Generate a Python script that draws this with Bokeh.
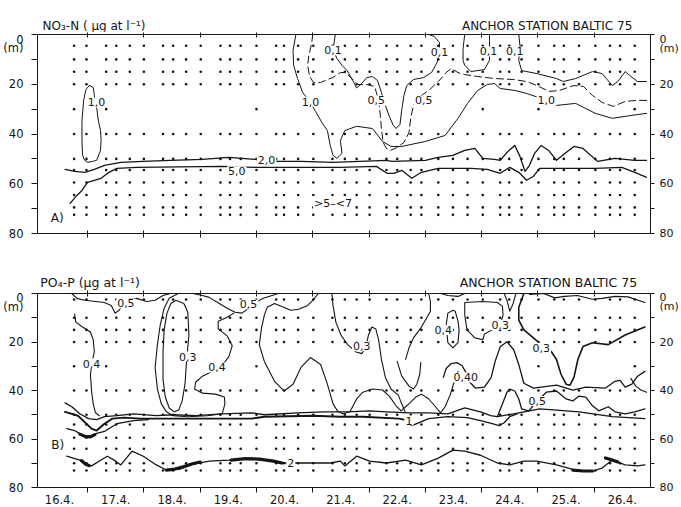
from bokeh.plotting import figure
from bokeh.models import Range1d, LinearAxis, FixedTicker, Label, ColumnDataSource
from bokeh.layouts import column
from bokeh.embed import file_html
from bokeh.resources import INLINE
from bokeh.core.properties import value

FONT = "DejaVu Sans"
INK = "#151515"
X0, X1 = 16.11, 27.0
PAGE_W = 681

# ---------------- axes data ----------------
DAY_TICKS = [17, 18, 19, 20, 21, 22, 23, 24, 25, 26]
DATE_POS = [16.5, 17.5, 18.5, 19.5, 20.5, 21.5, 22.5, 23.5, 24.5, 25.5, 26.5]
DATE_LABELS = ["16.4.", "17.4.", "18.4.", "19.4.", "20.4.", "21.4.", "22.4.",
               "23.4.", "24.4.", "25.4.", "26.4."]
DEPTH_LABEL_POS = [0, 5.5, 20, 40, 60, 80]
DEPTH_LABELS = ["0", "(m)", "20", "40", "60", "80"]
DEPTH_TICK_MARKS = [0, 10, 20, 30, 40, 50, 60, 70, 80]

# ---------------- titles (text, day of left edge) ----------------
TITLE_A = ("NO\u2083-N ( \u00b5g at l\u207b\u00b9)", 16.20)
STATION_A = ("ANCHOR STATION BALTIC 75", 23.65)
TITLE_B = ("PO\u2084-P (\u00b5g at l\u207b\u00b9)", 16.16)
STATION_B = ("ANCHOR STATION  BALTIC  75", 23.61)

# ---------------- sampling stations ----------------
STATIONS = [16.76, 16.98, 17.33, 17.51, 17.75, 18.0, 18.34, 18.52, 18.75, 19.01,
            19.36, 19.53, 19.72, 20.0, 20.35, 20.49, 20.74, 21.01, 21.35, 21.57,
            21.78, 22.01, 22.31, 22.5, 22.74, 22.93, 23.23, 23.49, 23.75, 24.02,
            24.33, 24.49, 24.71, 25.01, 25.29, 25.46, 25.73, 26.02, 26.28, 26.46, 26.72]
A_ROWS = [4.5, 10, 15, 20, 40, 50, 54.5, 59.5, 64.5, 69.5, 72.5]
A_ROW30 = [16.76, 17.33, 20.0, 24.02, 25.01, 26.72]
B_ROWS = [2.5, 10, 15, 20, 40, 50, 54, 59.5, 64, 70, 73]
B_ROW30 = [16.76, 17.33, 20.0, 25.01, 26.72]

# ---------------- panel A : NO3-N contours (day, depth m) ----------------
A_LOOP_10 = [(17.03, 20.5), (16.97, 22.1), (16.93, 26.5), (16.90, 34.5), (16.90, 42.6),
             (16.91, 48.6), (16.95, 50.6), (17.0, 51.4), (17.09, 51.0), (17.16, 50.6),
             (17.23, 46.6), (17.24, 42.6), (17.23, 38.6), (17.19, 34.5), (17.16, 29.3),
             (17.12, 24.5), (17.10, 21.3), (17.03, 20.5)]
A_LINE_20 = [(16.60, 54.2), (16.77, 55.0), (16.95, 55.4), (17.12, 54.2), (17.30, 52.6),
             (17.59, 51.4), (17.99, 51.0), (18.47, 50.6), (19.04, 50.2), (19.51, 49.4),
             (19.97, 50.2), (20.39, 51.0), (20.79, 51.0), (21.36, 51.4), (21.83, 51.0),
             (22.31, 50.6), (22.41, 51.0), (23.00, 50.6), (23.23, 49.4), (23.49, 48.6),
             (23.70, 46.6), (23.88, 45.8), (24.02, 49.8), (24.23, 50.2), (24.33, 50.6),
             (24.45, 47.4), (24.59, 44.6), (24.68, 49.0), (24.77, 55.0), (24.85, 52.6),
             (24.94, 47.8), (25.06, 44.6), (25.19, 46.6), (25.33, 50.6), (25.50, 47.4),
             (25.64, 45.0), (25.80, 45.8), (26.06, 51.0), (26.37, 49.8), (26.72, 50.6),
             (26.93, 50.6)]
A_LINE_50 = [(16.69, 67.9), (16.81, 64.7), (16.90, 62.7), (17.0, 59.4), (17.12, 58.6),
             (17.24, 57.8), (17.38, 55.4), (17.52, 53.8), (17.87, 53.4), (19.39, 53.0),
             (19.97, 53.4), (21.49, 53.4), (22.13, 53.0), (22.32, 55.8), (22.44, 55.8),
             (22.58, 54.6), (22.76, 57.8), (22.93, 55.4), (23.23, 53.8), (23.81, 53.8),
             (24.10, 54.2), (24.33, 55.8), (24.50, 53.4), (24.66, 55.4), (24.80, 58.6),
             (24.92, 57.0), (25.03, 53.8), (25.55, 53.8), (26.02, 53.8), (26.49, 53.4),
             (26.72, 55.4), (26.93, 57.4)]
A_LINE_10 = [(20.70, 0), (20.65, 6.4), (20.66, 12.4), (20.73, 17.7), (20.82, 23.3),
             (20.93, 26.5), (21.05, 30.9), (21.17, 35.7), (21.26, 38.6), (21.31, 44.6),
             (21.36, 48.6), (21.43, 49.8), (21.52, 47.8), (21.49, 42.6), (21.57, 38.6),
             (21.78, 36.9), (22.06, 37.8), (22.24, 43.0), (22.39, 45.0), (22.58, 45.0),
             (23.00, 43.0), (23.35, 40.6), (23.58, 33.7), (23.75, 27.7), (23.93, 22.5),
             (24.10, 20.1), (24.23, 19.7), (24.33, 21.7), (24.59, 22.5), (24.80, 23.7),
             (25.06, 25.7), (25.33, 28.5), (25.67, 27.7), (26.02, 31.7), (26.32, 33.7),
             (26.67, 32.5), (26.93, 31.7)]
A_LINE_01_V = [(21.40, 0), (21.36, 6.4), (21.43, 9.6), (21.52, 12.4), (21.61, 14.5),
               (21.71, 18.5), (21.78, 21.5), (21.87, 19.7), (21.96, 17.3), (22.06, 16.9),
               (22.15, 18.5), (22.22, 23.3), (22.29, 28.5), (22.36, 32.9), (22.43, 36.5),
               (22.48, 37.8), (22.55, 36.1), (22.58, 30.5), (22.62, 24.5), (22.67, 20.5),
               (22.79, 18.1), (22.97, 17.3), (23.11, 15.3), (23.21, 11.2), (23.25, 7.2),
               (23.25, 3.2), (23.16, 0.8), (23.06, 0)]
A_LINE_05 = [(21.0, 0), (20.98, 3.6), (20.93, 8.4), (20.91, 12.4), (20.94, 16.5),
             (21.01, 19.3), (21.14, 19.3), (21.26, 18.1), (21.36, 17.3), (21.49, 15.3),
             (21.57, 15.3), (21.66, 16.9), (21.80, 20.1), (21.96, 20.1), (22.10, 20.9),
             (22.17, 26.5), (22.20, 32.5), (22.22, 37.8), (22.25, 43.4), (22.31, 45.8),
             (22.38, 46.6), (22.50, 45.4), (22.62, 43.4), (22.71, 39.4), (22.74, 33.7),
             (22.79, 28.5), (22.88, 25.3), (23.06, 22.5), (23.23, 18.9), (23.37, 15.3),
             (23.46, 13.7), (23.58, 15.3), (23.70, 16.1), (23.93, 16.9), (24.23, 17.7),
             (24.57, 18.1), (24.80, 18.9), (24.98, 20.5), (25.20, 22.9), (25.38, 22.5),
             (25.64, 20.5), (25.81, 20.9), (25.97, 24.5), (26.14, 27.3), (26.34, 28.9),
             (26.55, 26.9), (26.76, 26.5), (26.93, 26.5)]
A_LOOP_01 = [(23.70, 0), (23.67, 5.6), (23.67, 10.4), (23.70, 12.4), (23.81, 14.9),
             (24.05, 14.1), (24.14, 10.4), (24.14, 7.2), (24.14, 2.4), (24.14, 0)]
A_LINE_01_R = [(24.66, 0), (24.68, 4.4), (24.66, 10.4), (24.71, 14.5), (24.98, 15.7),
               (25.33, 17.7), (25.45, 18.9), (25.67, 17.7), (25.97, 14.9), (26.14, 15.7),
               (26.32, 20.5), (26.42, 18.9), (26.55, 14.9), (26.63, 16.5), (26.77, 18.9),
               (26.93, 18.9)]
A_LABELS = [("1,0", 17.16, 27.3), ("1,0", 20.96, 27.0), ("1,0", 25.15, 26.5),
            ("2,0", 20.18, 50.6), ("5,0", 19.65, 55.0), ("0,1", 21.36, 6.4),
            ("0,1", 23.25, 7.2), ("0,1", 24.12, 6.8), ("0,1", 24.59, 6.8),
            ("0,5", 22.13, 26.5), ("0,5", 22.97, 26.5), (">5\u2013<7", 21.36, 67.9)]

# ---------------- panel B : PO4-P contours (day, depth m) ----------------
B_05_L = [(16.72, 0), (16.81, 2.0), (16.95, 2.8), (17.30, 3.7), (17.42, 4.9), (17.49, 8.1),
          (17.56, 6.9), (17.63, 4.5), (17.77, 2.4), (17.87, 2.0), (18.05, 3.3), (18.20, 2.8),
          (18.34, 0.8), (18.47, 0)]
B_05_M = [(18.87, 0), (19.04, 0.8), (19.16, 1.6), (19.34, 4.1), (19.48, 6.1), (19.62, 7.7),
          (19.74, 8.1), (19.84, 6.5), (19.95, 4.1), (20.12, 2.0), (20.39, 0)]
B_04_OUTER = [(18.61, 0.0), (18.45, 2.0), (18.36, 6.1), (18.29, 13.0), (18.24, 21.1),
              (18.20, 30.5), (18.24, 39.4), (18.31, 45.5), (18.40, 48.8), (18.52, 50.4),
              (18.78, 50.8), (19.13, 50.4), (19.39, 49.6), (19.44, 45.5), (19.43, 42.7),
              (19.27, 41.5), (19.04, 41.1), (18.90, 39.4), (18.92, 36.6), (19.04, 34.1),
              (19.22, 32.1), (19.39, 29.7), (19.51, 26.0), (19.57, 21.5), (19.48, 17.5),
              (19.32, 14.6), (19.32, 11.4), (19.48, 9.8), (19.60, 8.1)]
B_03_OVAL = [(18.57, 2.8), (18.71, 4.1), (18.78, 7.7), (18.80, 17.1), (18.76, 27.2),
             (18.73, 37.4), (18.68, 44.3), (18.62, 48.0), (18.54, 48.8), (18.45, 47.2),
             (18.38, 42.7), (18.34, 35.4), (18.34, 24.0), (18.36, 15.0), (18.41, 8.1),
             (18.48, 4.1), (18.57, 2.8)]
B_04_L = [(16.77, 8.5), (16.79, 11.8), (16.91, 13.8), (17.05, 15.9), (17.10, 19.1),
          (17.12, 24.0), (17.09, 27.2), (17.05, 33.3), (17.07, 40.2), (17.10, 45.5),
          (17.14, 49.2), (17.21, 50.4)]
B_TH1 = [(16.60, 45.1), (16.72, 46.7), (16.86, 49.6), (17.02, 51.6), (17.16, 52.0),
         (17.30, 50.8), (17.52, 50.4), (17.82, 49.6), (18.22, 50.4), (18.52, 50.0),
         (18.92, 50.4), (19.39, 49.6), (19.91, 49.2), (20.14, 50.0), (20.73, 49.2),
         (21.19, 48.8), (21.61, 48.8), (22.01, 48.4), (22.31, 48.8), (22.71, 49.2),
         (23.06, 49.2), (23.40, 49.6), (23.70, 47.2), (23.98, 48.8), (24.16, 50.4),
         (24.28, 50.8), (24.57, 49.6), (25.03, 47.6), (25.27, 48.0), (25.73, 48.8),
         (26.32, 50.8), (26.90, 51.6)]
B_TH2 = [(16.60, 48.8), (16.83, 50.4), (17.07, 55.7), (17.16, 56.5), (17.30, 53.7),
         (17.44, 51.6), (17.65, 51.2), (17.94, 51.6), (18.34, 51.6), (18.92, 51.6),
         (19.39, 51.6), (19.91, 51.6), (20.14, 50.8), (21.01, 50.4), (21.49, 50.8),
         (21.89, 50.8), (22.53, 51.6), (22.62, 52.0)]
B_TH2B = [(22.76, 54.5), (23.06, 51.6), (23.40, 50.8), (23.75, 51.2), (23.98, 52.4),
          (24.19, 53.7), (24.31, 54.5), (24.40, 53.3), (24.50, 50.8), (24.63, 49.6)]
B_TH3 = [(16.63, 55.7), (16.77, 56.5), (16.91, 58.5), (17.03, 58.9), (17.16, 57.7),
         (17.30, 56.9), (17.52, 53.7), (17.82, 52.4), (18.08, 52.0)]
B_TH3_THICK = [(16.86, 58.0), (16.95, 58.9), (17.05, 59.1), (17.13, 58.2)]
B_2 = [(16.63, 67.1), (16.86, 68.7), (17.0, 70.7), (17.07, 71.1), (17.21, 69.1),
       (17.35, 67.1), (17.47, 68.7), (17.59, 70.7), (17.79, 65.0), (17.99, 67.1),
       (18.22, 70.7), (18.40, 72.8), (18.64, 72.4), (18.81, 70.7), (19.16, 69.1),
       (19.51, 68.7), (19.91, 67.9), (20.26, 68.7), (20.49, 69.9), (20.73, 69.9),
       (21.31, 69.9), (21.49, 69.1), (21.57, 71.1), (21.78, 67.1), (22.01, 69.1),
       (22.31, 69.9), (22.65, 68.7), (22.93, 70.7), (23.23, 67.9), (23.49, 64.6),
       (23.70, 65.0), (23.98, 66.7), (24.28, 69.9), (24.50, 70.7), (24.75, 69.1),
       (24.98, 69.1), (25.33, 70.7), (25.73, 73.2), (25.97, 73.2), (26.14, 72.0),
       (26.32, 68.7), (26.55, 70.7), (26.77, 71.1), (26.90, 70.7)]
B_2_THICK = [
    [(16.89, 68.9), (16.96, 70.3), (17.03, 71.0)],
    [(18.40, 72.8), (18.55, 72.4), (18.70, 71.5), (18.85, 70.3), (19.0, 69.5)],
    [(19.55, 68.7), (19.80, 68.1), (20.05, 68.3), (20.30, 69.1), (20.45, 69.9)],
    [(25.62, 72.8), (25.80, 73.2), (25.97, 73.2)],
    [(26.20, 67.8), (26.32, 68.7), (26.42, 69.5)],
]
B_03_MID = [(21.10, 0), (21.00, 2.8), (20.91, 4.9), (20.75, 6.5), (20.61, 6.9), (20.44, 5.3),
            (20.32, 4.1), (20.19, 5.7), (20.14, 8.9), (20.09, 14.2), (20.05, 21.1),
            (20.14, 28.0), (20.23, 32.1), (20.32, 36.2), (20.49, 40.2), (20.65, 37.4),
            (20.79, 30.5), (20.96, 26.4), (21.14, 29.3), (21.26, 37.4), (21.36, 45.5),
            (21.45, 48.8), (21.54, 49.6), (21.66, 48.8), (21.78, 43.5), (21.89, 40.7),
            (22.06, 39.4), (22.24, 39.8), (22.36, 42.3), (22.48, 46.3), (22.57, 48.4),
            (22.67, 46.3), (22.83, 42.7), (22.93, 41.5), (23.06, 43.5), (23.18, 46.7),
            (23.27, 49.2), (23.35, 46.7), (23.44, 41.9), (23.51, 36.6), (23.58, 32.1)]
B_03_HAIR = [(21.34, 0), (21.36, 4.9), (21.41, 11.8), (21.50, 17.1), (21.62, 21.1),
             (21.76, 24.0), (21.87, 24.8), (21.94, 22.4), (21.99, 17.1), (22.05, 13.8),
             (22.12, 14.6), (22.17, 19.1), (22.22, 27.2), (22.29, 34.6), (22.39, 39.4),
             (22.52, 41.9), (22.58, 45.5), (22.64, 48.8)]
B_U = [(22.50, 28.0), (22.58, 34.1), (22.71, 38.2), (22.79, 39.4), (22.85, 37.4),
       (22.90, 33.3), (22.92, 28.5)]
B_RISE = [(23.06, 0), (23.09, 3.3), (23.09, 7.3), (23.02, 10.2), (22.92, 14.2),
          (22.79, 18.3), (22.71, 22.4), (22.65, 27.2)]
B_TOPDIP = [(23.28, 0), (23.40, 0.8), (23.58, 1.2), (23.70, 0)]
B_04_OVAL = [(23.49, 6.9), (23.40, 8.1), (23.37, 13.0), (23.40, 20.3), (23.49, 22.4),
             (23.58, 20.3), (23.60, 15.0), (23.58, 11.4), (23.53, 7.3), (23.49, 6.9)]
B_03_LOOP = [(23.70, 3.7), (24.02, 3.3), (24.28, 3.7), (24.37, 5.3), (24.38, 8.9),
             (24.33, 13.0), (24.19, 15.0), (24.05, 16.7), (24.02, 19.1), (23.88, 18.3),
             (23.74, 15.0), (23.70, 8.9), (23.70, 3.7)]
B_V = [(24.40, 0), (24.45, 2.8), (24.50, 7.3), (24.56, 4.1), (24.61, 0)]
B_03_R = [(24.75, 0), (24.66, 5.7), (24.66, 11.0), (24.75, 15.0), (24.92, 18.3),
          (25.06, 21.1), (25.24, 24.0), (25.33, 27.2), (25.41, 33.3), (25.50, 37.4),
          (25.57, 37.8), (25.64, 34.6), (25.71, 27.2), (25.80, 21.9), (25.97, 20.3),
          (26.25, 21.1), (26.55, 17.1), (26.90, 13.8)]
B_TOP_R = [(24.85, 0.4), (25.10, 0), (25.30, 1.8), (25.47, 1.2), (25.70, 0.8),
           (25.97, 2.4), (26.14, 2.0), (26.37, 1.2), (26.60, 1.4), (26.90, 3.7)]
B_05_R = [(24.28, 50.8), (24.37, 45.5), (24.45, 40.7), (24.50, 39.4), (24.59, 40.2),
          (24.66, 43.5), (24.71, 47.6), (24.84, 48.4), (24.94, 45.5), (25.15, 40.7),
          (25.33, 40.2), (25.50, 43.5), (25.62, 44.3), (25.73, 42.3), (25.85, 42.7),
          (25.97, 46.3), (26.08, 48.4), (26.25, 46.7), (26.37, 48.8), (26.55, 49.6),
          (26.72, 48.8), (26.90, 47.6)]
B_04_BIG = [(23.32, 34.6), (23.37, 30.9), (23.46, 28.9), (23.56, 28.5), (23.65, 29.7),
            (23.72, 32.5), (23.79, 36.6), (23.89, 39.0), (24.05, 38.6), (24.17, 34.6),
            (24.24, 28.0), (24.33, 22.0), (24.45, 19.9), (24.57, 23.2), (24.66, 29.3),
            (24.75, 37.0), (24.92, 39.0), (25.33, 37.8), (25.62, 39.8), (25.85, 38.6),
            (26.20, 39.0), (26.37, 36.2), (26.46, 35.8), (26.55, 38.6), (26.67, 37.4),
            (26.77, 34.1), (26.90, 32.1)]
B_HOOK = [(26.65, 35.0), (26.74, 38.2), (26.83, 39.8), (26.93, 40.7)]
B_LABELS = [("0,5", 17.68, 4.1), ("0,5", 19.86, 4.5), ("0,4", 17.07, 28.9),
            ("0,3", 18.78, 26.0), ("0,4", 19.30, 30.5), ("0,3", 21.87, 21.8),
            ("0,4", 23.32, 15.0), ("0,3", 24.33, 13.0), ("0,40", 23.72, 34.6),
            ("0,3", 25.06, 22.4), ("0,5", 24.99, 44.3), ("1", 22.71, 52.4),
            ("2", 20.61, 69.9)]


def title_strip(height, baseline, items, size):
    """Frameless strip above a panel; x in days (frames are aligned), y in strip pixels."""
    t = figure(width=PAGE_W, height=height, x_range=Range1d(X0, X1),
               y_range=Range1d(height, 0), output_backend="svg", toolbar_location=None,
               x_axis_location=None, y_axis_location=None,
               min_border_left=32, min_border_right=25, min_border_top=0, min_border_bottom=0)
    t.outline_line_color = None
    t.grid.visible = False
    t.background_fill_color = "white"
    t.border_fill_color = "white"
    t.text(x=[d for txt, d in items], y=[baseline] * len(items),
           text=[txt for txt, d in items], text_font=value(FONT), text_font_size=size,
           text_baseline="alphabetic", text_align="left", text_color=INK)
    return t


def depth_axis(size, tout, standoff):
    return LinearAxis(ticker=FixedTicker(ticks=DEPTH_LABEL_POS, minor_ticks=DEPTH_TICK_MARKS),
                      major_label_overrides=dict(zip(DEPTH_LABEL_POS, DEPTH_LABELS)),
                      major_tick_line_color=None, major_tick_in=0, major_tick_out=0,
                      minor_tick_in=0, minor_tick_out=tout, minor_tick_line_color=INK,
                      major_label_standoff=standoff + tout, major_label_text_font=FONT,
                      major_label_text_font_size=size, major_label_text_color=INK,
                      axis_line_color=INK)


def day_axis(tin, tout):
    return LinearAxis(ticker=FixedTicker(ticks=[], minor_ticks=DAY_TICKS),
                      major_tick_line_color=None, minor_tick_in=tin, minor_tick_out=tout,
                      minor_tick_line_color=INK, axis_line_color=INK)


def make_panel(height, top, bottom):
    p = figure(width=PAGE_W, height=height, x_range=Range1d(X0, X1), y_range=Range1d(80, 0),
               output_backend="svg", toolbar_location=None,
               x_axis_location=None, y_axis_location=None,
               min_border_left=32, min_border_right=25,
               min_border_top=top, min_border_bottom=bottom)
    p.grid.visible = False
    p.background_fill_color = "white"
    p.border_fill_color = "white"
    p.outline_line_color = INK
    p.add_layout(depth_axis("11.5px", 6, 2), "left")
    p.add_layout(depth_axis("11px", 4, 1), "right")
    return p


def dots(p, rows, row30):
    xs = [s for r in rows for s in STATIONS] + list(row30)
    ys = [r for r in rows for s in STATIONS] + [30] * len(row30)
    p.scatter(xs, ys, size=2.6, marker="circle", fill_color=INK, line_color=None)


def draw(p, pts, width=1.1, dash="solid"):
    p.line([a for a, b in pts], [b for a, b in pts], line_color=INK, line_width=width,
           line_dash=dash, line_join="round", line_cap="round")


def labels(p, items):
    src = ColumnDataSource(dict(t=[i[0] for i in items], x=[i[1] for i in items],
                                y=[i[2] for i in items]))
    p.text(x="x", y="y", text="t", source=src, text_font=value(FONT),
           text_font_size="11px", text_align="center", text_baseline="middle",
           text_color=INK, background_fill_color="white", padding=1)


# ---------------- panel A ----------------
ta = title_strip(32, 25, [TITLE_A, STATION_A], "12px")
pa = make_panel(224, 2, 23)
pa.add_layout(day_axis(3, 2), "above")
pa.add_layout(day_axis(3, 4), "below")
dots(pa, A_ROWS, A_ROW30)
for c in (A_LOOP_10, A_LINE_10, A_LINE_01_V, A_LOOP_01, A_LINE_01_R):
    draw(pa, c, 1.0)
draw(pa, A_LINE_20, 1.3)
draw(pa, A_LINE_50, 1.3)
draw(pa, A_LINE_05, 1.0, "7 4")
labels(pa, A_LABELS)
pa.add_layout(Label(x=16.46, y=73.9, text="A)", text_align="center", text_baseline="middle",
                    text_font=FONT, text_font_size="12px", text_color=INK))

# ---------------- panel B ----------------
tb = title_strip(34, 26, [TITLE_B, STATION_B], "12.5px")
pb = make_panel(216, 3, 16)
pb.outline_line_color = None
pb.add_layout(day_axis(3, 3), "above")
date_ax = LinearAxis(ticker=FixedTicker(ticks=DATE_POS, minor_ticks=DAY_TICKS),
                     major_tick_line_color=None, major_tick_in=0, major_tick_out=0,
                     minor_tick_in=0, minor_tick_out=5, minor_tick_line_color=INK,
                     major_label_standoff=2, axis_line_color=INK,
                     major_label_overrides=dict(zip(DATE_POS, DATE_LABELS)),
                     major_label_text_font=FONT, major_label_text_font_size="11.5px",
                     major_label_text_color=INK)
pb.add_layout(date_ax, "below")
dots(pb, B_ROWS, B_ROW30)
for c in (B_05_L, B_05_M, B_04_OUTER, B_03_OVAL, B_04_L, B_03_MID, B_03_HAIR, B_U,
          B_RISE, B_TOPDIP, B_04_OVAL, B_03_LOOP, B_V, B_TOP_R, B_HOOK):
    draw(pb, c, 1.1)
for c in (B_TH1, B_TH3, B_TH2B, B_05_R, B_04_BIG, B_2):
    draw(pb, c, 1.3)
draw(pb, B_TH2, 1.9)
draw(pb, B_03_R, 1.6)
draw(pb, B_TH3_THICK, 3.2)
for seg in B_2_THICK:
    draw(pb, seg, 3.2)
labels(pb, B_LABELS)
pb.add_layout(Label(x=16.47, y=62.6, text="B)", text_align="center", text_baseline="middle",
                    text_font=FONT, text_font_size="12px", text_color=INK))

layout = column(ta, pa, tb, pb, spacing=0)
open("out.html", "w").write(file_html(layout, INLINE))
